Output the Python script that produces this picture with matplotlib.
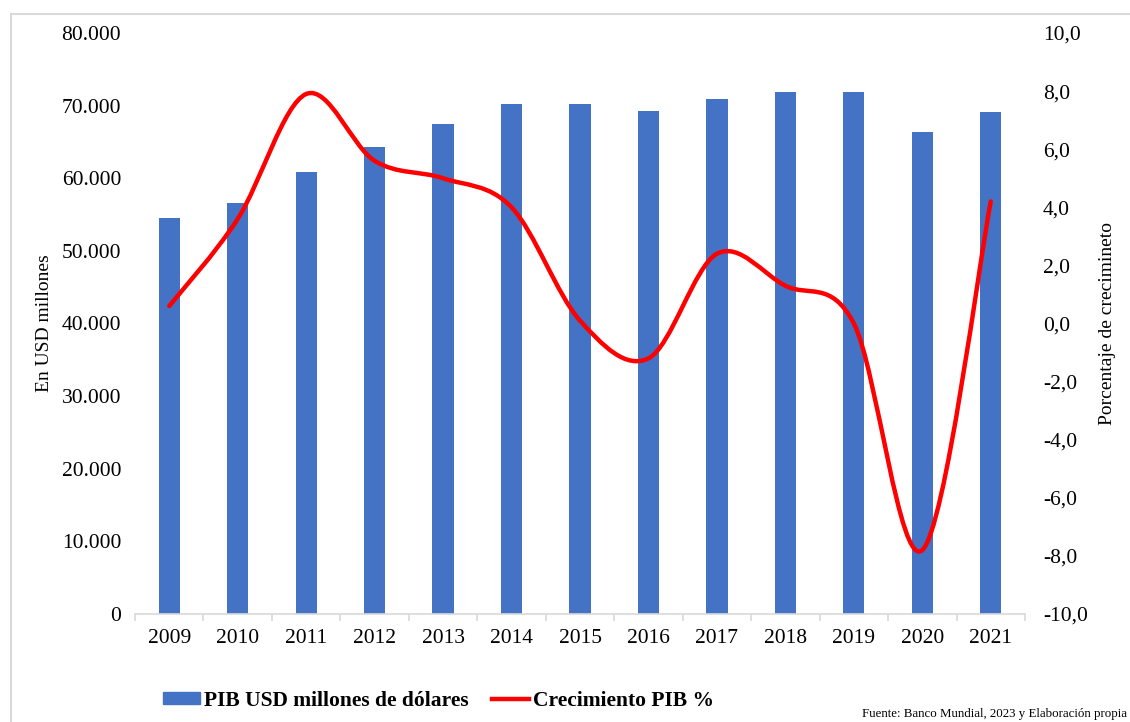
import matplotlib
matplotlib.use("Agg")
import matplotlib.pyplot as plt
import matplotlib.patches as mpatches
from matplotlib.lines import Line2D
from matplotlib.path import Path
from matplotlib.ticker import FuncFormatter, FixedLocator
import numpy as np

years = ["2009", "2010", "2011", "2012", "2013", "2014", "2015",
         "2016", "2017", "2018", "2019", "2020", "2021"]
pib_usd = [54500, 56600, 60900, 64300, 67500, 70200, 70200,
           69300, 70900, 71900, 71900, 66400, 69100]
crecimiento = [0.6, 3.6, 7.9, 5.6, 5.0, 4.0, 0.1, -1.2, 2.4, 1.3, 0.0, -7.8, 4.2]

plt.rcParams["font.family"] = ["Liberation Serif", "DejaVu Serif"]

blue = "#4472C4"
red = "#FF0000"
gray = "#D9D9D9"

fig = plt.figure(figsize=(11.3, 7.22), dpi=100)
ax = fig.add_axes([135 / 1130, 1 - 614 / 722, 890 / 1130, 581 / 722])
x = np.arange(len(years))

ax.bar(x, pib_usd, width=0.31, color=blue, zorder=2)
ax.set_xlim(-0.5, len(years) - 0.5)
ax.set_ylim(0, 80000)
ax.set_yticks(np.arange(0, 80001, 10000))
ax.yaxis.set_major_formatter(FuncFormatter(lambda v, p: f"{int(v):,}".replace(",", ".")))
ax.set_xticks(x)
ax.set_xticklabels(years)
ax.xaxis.set_minor_locator(FixedLocator(np.arange(-0.5, len(years), 1)))
ax.tick_params(axis="x", which="major", length=0, labelsize=15.5, pad=11)
ax.tick_params(axis="x", which="minor", length=5, color=gray, width=1.2)
ax.tick_params(axis="y", length=0, labelsize=15.5, pad=10)
for s in ["top", "left", "right"]:
    ax.spines[s].set_visible(False)
ax.spines["bottom"].set_color(gray)
ax.spines["bottom"].set_linewidth(1.2)
ax.set_ylabel("En USD millones", fontsize=14)
ax.yaxis.set_label_coords(-0.092, 0.5)

ax2 = ax.twinx()
ax2.set_ylim(-10, 10)
ax2.set_yticks(np.arange(-10, 10.1, 2))
ax2.yaxis.set_major_formatter(FuncFormatter(lambda v, p: f"{v:.1f}".replace(".", ",")))
ax2.tick_params(axis="y", length=0, labelsize=15.5, pad=13)
for s in ["top", "left", "right", "bottom"]:
    ax2.spines[s].set_visible(False)
ax2.set_ylabel("Porcentaje de crecimineto", fontsize=14)
ax2.yaxis.set_label_coords(1.083, 0.5)

# smoothed line (Catmull-Rom style bezier like Excel)
pts = np.column_stack([x, crecimiento]).astype(float)
verts = [tuple(pts[0])]
codes = [Path.MOVETO]
n = len(pts)
for i in range(n - 1):
    p0 = pts[i - 1] if i > 0 else pts[i]
    p1 = pts[i]
    p2 = pts[i + 1]
    p3 = pts[i + 2] if i + 2 < n else pts[i + 1]
    c1 = p1 + (p2 - p0) / 6
    c2 = p2 - (p3 - p1) / 6
    verts += [tuple(c1), tuple(c2), tuple(p2)]
    codes += [Path.CURVE4, Path.CURVE4, Path.CURVE4]
curve = mpatches.PathPatch(Path(verts, codes), facecolor="none", edgecolor=red,
                           lw=3.2, capstyle="round", zorder=3)
ax2.add_patch(curve)

handles = [mpatches.Patch(color=blue, label="PIB USD millones de dólares"),
           Line2D([0], [0], color=red, lw=3.2, label="Crecimiento PIB %")]
fig.legend(handles=handles, loc="center left", bbox_to_anchor=(163 / 1130, 1 - 701 / 722),
           ncol=2, frameon=False, prop={"weight": "bold", "size": 15.5},
           handlelength=1.7, handleheight=0.5, handletextpad=0.2,
           columnspacing=1.1, borderpad=0, borderaxespad=0)

fig.text(1127 / 1130, 1 - 720 / 722, "Fuente: Banco Mundial, 2023 y Elaboración propia",
         fontsize=9.3, ha="right", va="bottom")

frame = mpatches.Rectangle((11 / 1130, -0.1), 1.2, 1 - 14 / 722 + 0.1,
                           transform=fig.transFigure, fill=False,
                           edgecolor=gray, lw=1.5)
fig.patches.append(frame)

fig.savefig("out.png", dpi=100)
